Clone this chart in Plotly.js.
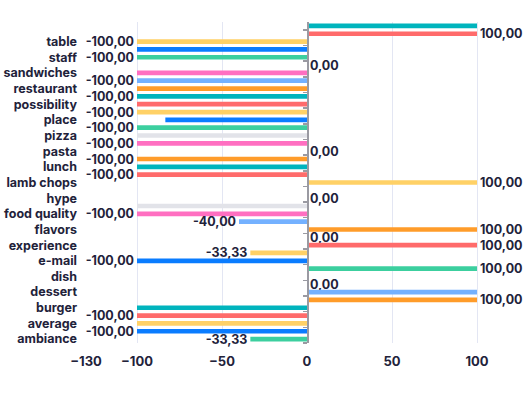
<!DOCTYPE html>
<html>
<head>
<meta charset="utf-8">
<script src="https://cdn.plot.ly/plotly-3.0.1.min.js"></script>
<style>html,body{margin:0;padding:0;background:#fff;}#chart{width:528px;height:393px;}</style>
</head>
<body>
<div id="chart"></div>
<script>
// Category labels (top to bottom)
const categories = ["table","staff","sandwiches","restaurant","possibility","place","pizza","pasta","lunch","lamb chops","hype","food quality","flavors","experience","e-mail","dish","dessert","burger","average","ambiance"];

// Bar values, top to bottom, one per bar row
const barValues = [100,100,-100,-100,-100,0,-100,-100,-100,-100,-100,-100,-83.33,-100,-100,-100,0,-100,-100,-100,100,0,0,-100,-100,-40,100,0,100,-33.33,-100,100,0,0,100,100,-100,-100,-100,-100,-33.33];

// Whether the value label of each bar is visible (1 = shown)
const labelShown = [0,1,1,0,1,1,0,1,0,1,0,1,0,1,0,1,1,1,0,1,1,0,1,0,1,1,1,1,1,1,1,1,0,1,0,1,0,1,0,1,1];

// X-axis tick values
const xTicks = [-130,-100,-50,0,50,100];

const palette = ['#00b4bd','#ff6b6b','#ffd166','#0a7cff','#3ccf9f','#e2e3e9','#ff6fc1','#74b1ff','#ff9c2a'];
const FONT = 'Inter, "Noto Sans", sans-serif';
const TXT = '#22223a';
const NB = '\u00a0';

const rows = barValues.map((v,i)=>i);
const catPos = categories.map((c,k)=>2*k+2);
const groupTicks = [];
for (let t = 0.5; t <= barValues.length; t += 2) groupTicks.push(t);
const yRange = [barValues.length - 0.5, -0.5];

const bars = {
  type: 'bar',
  orientation: 'h',
  x: barValues,
  y: rows,
  width: 0.6,
  marker: {color: rows.map(i => palette[i % palette.length])},
  texttemplate: labelShown.map((s,i) => !s ? '' : (barValues[i] < 0 ? '%{x:.2f}' + NB : NB + '%{x:.2f}')),
  textposition: 'outside',
  constraintext: 'none',
  cliponaxis: false,
  textfont: {family: FONT, size: 12.5, color: TXT, weight: 700},
  hoverinfo: 'skip',
  showlegend: false
};

const axisHelper = {
  type: 'scatter', mode: 'markers', x: [0], y: [0.5], yaxis: 'y2',
  marker: {opacity: 0}, hoverinfo: 'skip', showlegend: false
};

const layout = {
  width: 528, height: 393,
  margin: {l: 86, r: 0, t: 22, b: 50},
  paper_bgcolor: '#fff', plot_bgcolor: '#fff',
  separators: ',.',
  showlegend: false,
  font: {family: FONT, color: TXT},
  xaxis: {
    range: [-130, 130], tickvals: xTicks,
    showgrid: true, gridcolor: '#e3e6f3', gridwidth: 1,
    zeroline: false, showline: false,
    ticks: 'outside', ticklen: 6, tickcolor: 'rgba(0,0,0,0)',
    tickfont: {family: FONT, size: 13, color: TXT, weight: 700}
  },
  yaxis: {
    range: yRange, tickvals: catPos, ticktext: categories,
    showgrid: false, zeroline: false, showline: false,
    ticks: '', ticklen: 0, ticklabelstandoff: 8,
    tickfont: {family: FONT, size: 12.5, color: TXT, weight: 700}
  },
  yaxis2: {
    overlaying: 'y', anchor: 'free', position: 0.5, side: 'left',
    range: yRange, tickvals: groupTicks,
    showticklabels: false, showgrid: false, zeroline: false,
    showline: true, linecolor: '#9a9aa2', linewidth: 1.5,
    ticks: 'outside', ticklen: 4, tickcolor: '#9a9aa2', tickwidth: 1.5
  }
};

Plotly.newPlot('chart', [bars, axisHelper], layout, {displayModeBar: false, staticPlot: true});
</script>
</body>
</html>
